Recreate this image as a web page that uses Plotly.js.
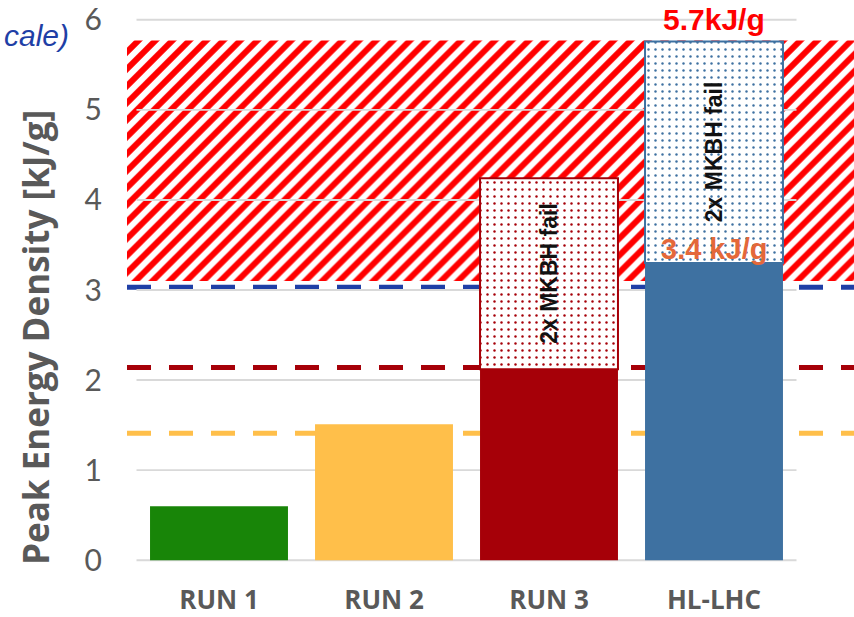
<!DOCTYPE html>
<html>
<head>
<meta charset="utf-8">
<script src="https://cdn.plot.ly/plotly-3.0.1.min.js"></script>
<style>html,body{margin:0;padding:0;background:#fff}#chart{width:854px;height:617px}</style>
</head>
<body>
<div id="chart"></div>
<script>
// ---- data ----
const categories = ['RUN 1', 'RUN 2', 'RUN 3', 'HL-LHC'];
const nominal = [0.6, 1.51, 2.12, 3.30];            // solid bars [kJ/g]
const withFailure = [null, null, 4.24, 5.76];        // "2x MKBH fail" totals [kJ/g]
const barColors = ['#188508', '#ffbf4a', '#a60008', '#3e71a1'];
const limitValues = [1.41, 2.14, 3.03];              // dashed reference levels
const limitColors = ['#ffbf4a', '#a60008', '#1f3fa6'];
const riskZone = [3.1, 5.77];                        // hatched band
const yTicks = [0, 1, 2, 3, 4, 5, 6];
const failLabel = '2x MKBH fail';
const topLabel = '5.7kJ/g';
const nominalLabel = '3.4 kJ/g';
const cornerText = 'cale)';
const yTitle = 'Peak Energy Density [kJ/g]';

// ---- layout geometry ----
const W = 854, H = 617;
const M = {l: 127, r: 0, t: 18, b: 55};
const xRange = [-0.5576, 3.8485];
const yRange = [-0.02, 6.02];
const xIdx = categories.map((c, i) => i);
const barWidth = 0.836;
const gridSpan = [-0.5, 3.5];
const gridThick = 0.022;
const pw = W - M.l - M.r, ph = H - M.t - M.b;
const pxX = px => (px - M.l) / pw;
const pxY = py => (H - M.b - py) / ph;

const traces = [];
// hatched risk band
traces.push({
  type: 'bar', x: [(xRange[0] + xRange[1]) / 2], y: [riskZone[1] - riskZone[0]], base: [riskZone[0]],
  width: [xRange[1] - xRange[0]],
  marker: {color: 'white', line: {width: 0},
    pattern: {shape: '/', fgcolor: '#ff0000', bgcolor: 'white', size: 12, solidity: 0.5}},
  hoverinfo: 'skip', showlegend: false
});
// gridlines (drawn above the band, below the bars)
traces.push({
  type: 'bar', x: yTicks.map(() => (gridSpan[0] + gridSpan[1]) / 2),
  y: yTicks.map(() => gridThick), base: yTicks.map(v => v - gridThick / 2),
  width: yTicks.map(() => gridSpan[1] - gridSpan[0]),
  marker: {color: '#d9d9d9', line: {width: 0}}, hoverinfo: 'skip', showlegend: false
});
// nominal bars
traces.push({
  type: 'bar', x: xIdx, y: nominal, base: nominal.map(() => 0), width: barWidth,
  marker: {color: barColors, line: {width: 0}}, hoverinfo: 'skip', showlegend: false
});
// failure extension bars (dotted)
const fi = xIdx.filter(i => withFailure[i] !== null);
traces.push({
  type: 'bar', x: fi, y: fi.map(i => withFailure[i] - nominal[i]), base: fi.map(i => nominal[i]),
  width: barWidth,
  marker: {color: 'white', line: {width: 2, color: fi.map(i => barColors[i])},
    pattern: {shape: '.', fgcolor: fi.map(i => barColors[i]), bgcolor: 'white', size: 7, solidity: 0.1}},
  hoverinfo: 'skip', showlegend: false
});

const shapes = limitValues.map((v, k) => ({
  type: 'line', xref: 'paper', yref: 'y', x0: 0, x1: 1, y0: v, y1: v, layer: 'below',
  line: {color: limitColors[k], width: 5, dash: '24px,18px'}
}));

const sans = 'Arial, "Liberation Sans", sans-serif';
const annotations = [];
fi.forEach(i => {
  annotations.push({
    xref: 'x', yref: 'y', x: i, y: (nominal[i] + withFailure[i]) / 2, text: '<b>' + failLabel + '</b>',
    textangle: -90, showarrow: false,
    font: {family: sans, size: 23, color: '#111111'}
  });
});
annotations.push({xref: 'x', yref: 'y', x: 3, y: withFailure[3], yanchor: 'bottom', yshift: 3,
  text: '<b>' + topLabel + '</b>', showarrow: false, font: {family: sans, size: 30, color: '#ff0000'}});
annotations.push({xref: 'x', yref: 'y', x: 3, y: nominal[3], yanchor: 'bottom', yshift: -4,
  text: '<b>' + nominalLabel + '</b>', showarrow: false, font: {family: sans, size: 29, color: '#e4683a'}});
annotations.push({xref: 'paper', yref: 'paper', x: pxX(71), y: pxY(35), xanchor: 'right', yanchor: 'middle',
  text: '<i>' + cornerText + '</i>', showarrow: false, font: {family: sans, size: 30, color: '#1f3fa6'}});
annotations.push({xref: 'paper', yref: 'paper', x: pxX(35), y: pxY(338), xanchor: 'center', yanchor: 'middle',
  text: '<b>' + yTitle + '</b>', textangle: -90, showarrow: false,
  font: {family: '"Open Sans", Lato, sans-serif', size: 35, color: '#595959'}});

const layout = {
  width: W, height: H, margin: M,
  paper_bgcolor: 'white', plot_bgcolor: 'white',
  barmode: 'overlay', showlegend: false,
  xaxis: {type: 'linear', range: xRange, tickvals: xIdx, ticktext: categories.map(c => '<b>' + c + '</b>'),
    showgrid: false, zeroline: false, showline: false, ticks: '', ticklabelstandoff: 20,
    tickfont: {family: '"Open Sans", Lato, sans-serif', size: 26, color: '#595959'},
    fixedrange: true},
  yaxis: {range: yRange, tickvals: yTicks, showgrid: false, zeroline: false, showline: false,
    ticks: '', ticklabelstandoff: 24,
    tickfont: {family: 'Lato, "Open Sans", sans-serif', size: 30, color: '#595959'}, fixedrange: true},
  shapes: shapes, annotations: annotations
};

Plotly.newPlot('chart', traces, layout, {displayModeBar: false, staticPlot: true});
</script>
</body>
</html>
